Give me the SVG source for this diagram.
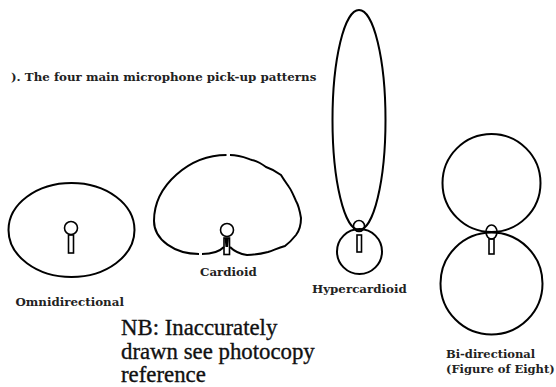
<svg xmlns="http://www.w3.org/2000/svg" width="556" height="387" viewBox="0 0 556 387">
<style>
.l{fill:none;stroke:#000;stroke-width:2}
.m{fill:none;stroke:#000;stroke-width:1.6}
.t{font-family:"DejaVu Serif","Liberation Serif",serif;font-size:11.85px;font-weight:bold;fill:#222}
.b{font-size:11.5px}
.n{font-family:"Liberation Serif","DejaVu Serif",serif;font-size:22.8px;fill:#111;stroke:#111;stroke-width:.35}
</style>
<rect width="556" height="387" fill="#fff"/>
<text class="t" x="11" y="81">). The four main microphone pick-up patterns</text>
<g id="omni">
<ellipse class="l" cx="71.500" cy="230" rx="63" ry="47"/>
<circle class="m" cx="71" cy="228" r="6.500"/>
<rect class="m" x="68.500" y="235" width="5" height="18"/>
<text class="t" x="15.500" y="306">Omnidirectional</text>
</g>
<g id="cardioid">
<path class="l" d="M226.500 155C190 155 154 185 154 221C154 240 175 254 199 254M202 254C212 254 219 252 224 247"/>
<path class="l" d="M230 155C240 155 246 158 252 160C258 161 262 164 266 167C272 169 277 172 281 175C284 180 287 184 289 187C292 191 294 197 296 201C299 206 300 212 301 218C301 226 299 231 296 235C292 240 289 243 285 246C278 248 274 250 268 252C260 254 254 255 247 255C240 254 235 252 230 247"/>
<circle class="m" cx="227" cy="230" r="6.500"/>
<rect class="m" x="224" y="238" width="5.500" height="16.500"/>
<path d="M224.500 238h4.500l-1 9h-2.500z" fill="#000"/>
<text class="t" x="200" y="276">Cardioid</text>
</g>
<g id="hypercardioid">
<ellipse class="l" cx="359" cy="120" rx="26.500" ry="110"/>
<circle class="l" cx="359.500" cy="251.500" r="22.500"/>
<circle class="m" cx="359" cy="226" r="5.500"/>
<rect class="m" x="357" y="235" width="4.500" height="17"/>
<text class="t" x="312" y="293">Hypercardioid</text>
</g>
<g id="bidirectional">
<circle class="l" cx="491.500" cy="183" r="49"/>
<circle class="l" cx="491.500" cy="283.500" r="51"/>
<ellipse class="m" cx="491.500" cy="232" rx="5.500" ry="7"/>
<rect class="m" x="489" y="239" width="5" height="15"/>
<text class="t b" x="446" y="358">Bi-directional</text>
<text class="t b" x="446" y="373">(Figure of Eight)</text>
</g>
<text class="n" x="121" y="335">NB: Inaccurately</text>
<text class="n" x="121" y="359">drawn see photocopy</text>
<text class="n" x="121" y="382">reference</text>
</svg>
